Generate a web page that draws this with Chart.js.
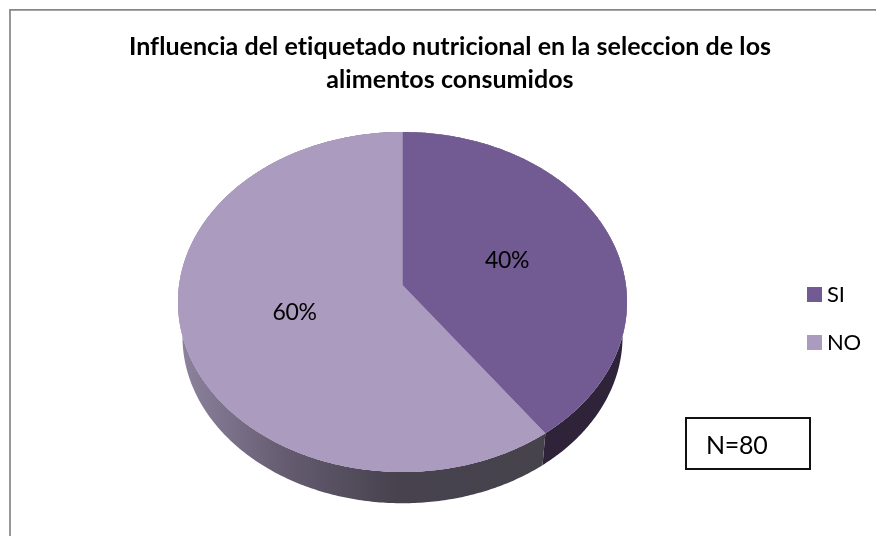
<!DOCTYPE html>
<html>
<head>
<meta charset="utf-8">
<title>Etiquetado nutricional</title>
<script src="https://cdn.jsdelivr.net/npm/chart.js@4"></script>
<style>
  html, body { margin: 0; padding: 0; background: #fff; overflow: hidden; }
  #wrap { position: absolute; left: 0; top: 0; width: 876px; height: 536px; }
</style>
</head>
<body>
<div id="wrap"><canvas id="chart" width="876" height="536"></canvas></div>
<script>
const categories = ['SI', 'NO'];
const percentages = [40, 60];
const titleLines = ['Influencia del etiquetado nutricional en la seleccion de los', 'alimentos consumidos'];
const sampleNote = 'N=80';

const sliceColors = ['#725a92', '#ab9bbf'];
const fontName = 'Lato, Carlito, sans-serif';

// Tilted disc: the pie is a circle seen in perspective, so the apex sits above the ellipse centre
const disc = { cx: 402.5, cy: 285, scaleX: 223.4, scaleY: 168.3, tilt: 0.1, depth: 35, shrink: 0.98 };

function project(angle, radius, lower) {
  const u = Math.cos(angle) * radius;
  const v = Math.sin(angle) * radius;
  const w = 1 - disc.tilt * v;
  const s = lower ? disc.shrink : 1;
  return {
    x: disc.cx + s * disc.scaleX * u / w,
    y: disc.cy + (lower ? disc.depth : 0) + s * disc.scaleY * v / w
  };
}

function arcPoints(start, end, lower) {
  const steps = Math.max(2, Math.ceil((end - start) * 90));
  const pts = [];
  for (let i = 0; i <= steps; i++) {
    pts.push(project(start + (end - start) * i / steps, 1, lower));
  }
  return pts;
}

function tracePoints(ctx, pts, moveFirst) {
  pts.forEach((p, i) => {
    if (i === 0 && moveFirst) ctx.moveTo(p.x, p.y);
    else ctx.lineTo(p.x, p.y);
  });
}

function sideFill(ctx, index) {
  if (index === 0) return '#2e2339';
  const g = ctx.createLinearGradient(disc.cx - 225, 0, disc.cx + 140, 0);
  g.addColorStop(0, '#8f849f');
  g.addColorStop(0.3, '#645b70');
  g.addColorStop(0.6, '#47424e');
  g.addColorStop(1, '#46434c');
  return g;
}

// Replaces the flat arcs with the thick tilted pie, using the angles the controller worked out
const tiltedPie = {
  id: 'tiltedPie',
  beforeDatasetsDraw(chart) {
    const ctx = chart.ctx;
    const arcs = chart.getDatasetMeta(0).data;
    const apex = project(0, 0, false);

    ctx.save();
    arcs.forEach((arc, i) => {
      const upper = arcPoints(arc.startAngle, arc.endAngle, false);
      const lower = arcPoints(arc.startAngle, arc.endAngle, true).reverse();
      ctx.beginPath();
      tracePoints(ctx, upper, true);
      tracePoints(ctx, lower, false);
      ctx.closePath();
      ctx.fillStyle = sideFill(ctx, i);
      ctx.fill();
    });

    // full disc underneath so no white seam shows between the slices
    ctx.beginPath();
    tracePoints(ctx, arcPoints(0, Math.PI * 2, false), true);
    ctx.closePath();
    ctx.fillStyle = arcs[arcs.length - 1].options.backgroundColor;
    ctx.fill();

    arcs.forEach(arc => {
      ctx.beginPath();
      ctx.moveTo(apex.x, apex.y);
      tracePoints(ctx, arcPoints(arc.startAngle, arc.endAngle, false), false);
      ctx.closePath();
      ctx.fillStyle = arc.options.backgroundColor;
      ctx.fill();
    });

    ctx.font = '23px ' + fontName;
    ctx.letterSpacing = '-0.3px';
    ctx.fillStyle = '#000';
    ctx.textAlign = 'center';
    ctx.textBaseline = 'middle';
    arcs.forEach((arc, i) => {
      const mid = (arc.startAngle + arc.endAngle) / 2;
      const p = project(mid, 0.5, false);
      ctx.fillText(percentages[i] + '%', p.x, p.y + 1);
    });
    ctx.restore();
    return false;
  }
};

// Frame round the chart, the legend and the boxed sample size
const chartFrame = {
  id: 'chartFrame',
  beforeDraw(chart) {
    const ctx = chart.ctx;
    ctx.fillStyle = '#fff';
    ctx.fillRect(0, 0, chart.width, chart.height);
    ctx.strokeStyle = '#868686';
    ctx.lineWidth = 1.7;
    ctx.beginPath();
    ctx.moveTo(10, chart.height);
    ctx.lineTo(10, 9.8);
    ctx.lineTo(chart.width, 9.8);
    ctx.stroke();
    // a hair of tracking keeps the title free of Lato's ligatures
    ctx.letterSpacing = '0.05px';
  },
  afterDraw(chart) {
    const ctx = chart.ctx;
    ctx.save();
    ctx.letterSpacing = '-0.3px';
    ctx.font = '22px ' + fontName;
    ctx.textAlign = 'left';
    ctx.textBaseline = 'middle';
    categories.forEach((name, i) => {
      const top = 287 + i * 48;
      ctx.fillStyle = sliceColors[i];
      ctx.fillRect(807, top, 15, 15);
      ctx.fillStyle = '#000';
      ctx.fillText(name, 827, top + 8);
    });

    ctx.strokeStyle = '#111';
    ctx.lineWidth = 2;
    ctx.strokeRect(686, 418, 124, 51);
    ctx.font = '25px ' + fontName;
    ctx.fillStyle = '#000';
    ctx.fillText(sampleNote, 706, 446);
    ctx.restore();
  }
};

new Chart(document.getElementById('chart'), {
  type: 'pie',
  data: {
    labels: categories,
    datasets: [{ data: percentages, backgroundColor: sliceColors, borderWidth: 0 }]
  },
  options: {
    responsive: false,
    animation: false,
    layout: { padding: { top: 30, right: 0, bottom: 0, left: 24 } },
    plugins: {
      tooltip: { enabled: false },
      legend: { display: false },
      title: {
        display: true,
        text: titleLines,
        color: '#000',
        font: { family: fontName, size: 25, weight: 'bold', lineHeight: 1.34 },
        padding: { top: 0, bottom: 10 }
      }
    }
  },
  plugins: [chartFrame, tiltedPie]
});
</script>
</body>
</html>
